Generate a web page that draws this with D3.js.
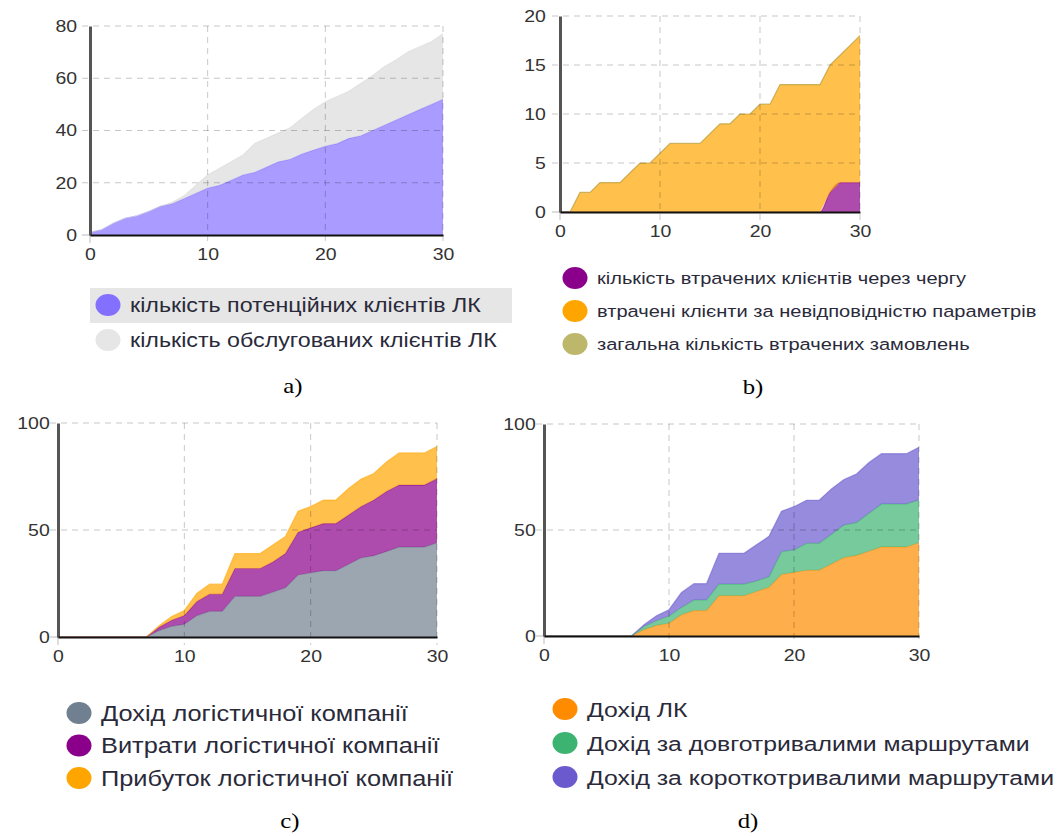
<!DOCTYPE html>
<html>
<head>
<meta charset="utf-8">
<script src="https://cdn.jsdelivr.net/npm/d3@7"></script>
<style>
  body { margin: 0; background: #fff; }
  svg { display: block; }
</style>
</head>
<body>
<svg id="chart" width="1062" height="836"></svg>
<script>
const days = d3.range(0, 31)

// a) clients (stacked: potential at the bottom, served on top)
const potentialClients = [1, 2, 4.5, 6.4, 7.3, 9, 11, 12, 14, 16, 18, 19, 21, 23, 24, 26, 28, 29, 31, 32.5, 34, 35, 37, 38, 40, 42, 44, 46, 48, 50, 52]
const servedClients = [0, 0, 0, 0, 0, 0, 0, 0.5, 1, 3, 5, 6.5, 7, 7.6, 11, 11, 11, 12, 13.6, 15.5, 17, 18, 18, 20, 21, 22.4, 23, 24, 24, 24, 25]

// b) lost clients (stacked: queue at the bottom)
const queueLost = [0, 0, 0, 0, 0, 0, 0, 0, 0, 0, 0, 0, 0, 0, 0, 0, 0, 0, 0, 0, 0, 0, 0, 0, 0, 0, 0, 2, 3, 3, 3]
const mismatchLost = [0, 0, 2, 2, 3, 3, 3, 4, 5, 5, 6, 7, 7, 7, 7, 8, 9, 9, 10, 10, 11, 11, 13, 13, 13, 13, 13, 13, 13, 14, 15]

// c) income / costs / profit (stacked)
const income = [0, 0, 0, 0, 0, 0, 0, 0, 3, 5, 6, 10, 12, 12, 19, 19, 19, 21, 23, 29, 30, 31, 31, 34, 37, 38, 40, 42, 42, 42, 44]
const costs = [0, 0, 0, 0, 0, 0, 0, 0, 1.5, 2.8, 4, 6.6, 8, 8, 13, 13, 13, 14, 16, 20, 21, 22, 22, 23, 24, 26, 28, 29, 29, 29, 30]
const profit = [0, 0, 0, 0, 0, 0, 0, 0, 0.8, 1.8, 2.4, 3.9, 4.7, 4.7, 7, 7, 7, 8, 8, 9.8, 10, 11, 11, 12.4, 12.8, 12.4, 13.8, 15, 15, 15, 15]

// d) income by route type (stacked)
const incomeLK = income
const longRoutes = [0, 0, 0, 0, 0, 0, 0, 0, 1.5, 2.2, 3.4, 3.5, 5, 5, 5.5, 5.5, 5.5, 5, 5, 10.8, 10.6, 12.7, 12.7, 14, 15.4, 15.5, 17.9, 20.3, 20.3, 20.3, 20.2]
const shortRoutes = [0, 0, 0, 0, 0, 0, 0, 0, 0.8, 2.4, 3, 7, 7.7, 7.7, 14.5, 14.5, 14.5, 17, 19, 19, 20.4, 20.3, 20.3, 21.4, 21.4, 22.9, 23.9, 23.7, 23.7, 23.7, 24.8]

const legendA = ['кількість потенційних клієнтів ЛК', 'кількість обслугованих клієнтів ЛК']
const legendB = ['кількість втрачених клієнтів через чергу', 'втрачені клієнти за невідповідністю параметрів', 'загальна кількість втрачених замовлень']
const legendC = ['Дохід логістичної компанії', 'Витрати логістичної компанії', 'Прибуток логістичної компанії']
const legendD = ['Дохід ЛК', 'Дохід за довготривалими маршрутами', 'Дохід за короткотривалими маршрутами']

const sx = 1.18 // the source picture is stretched horizontally
const sans = '"Liberation Sans", Arial, sans-serif'
const svg = d3.select('#chart')

function panel(opt) {
  const width = opt.right - opt.left
  const height = opt.bottom - opt.top
  const g = svg.append('g').attr('transform', `translate(${opt.left}, ${opt.top})`)

  const x = d3.scaleLinear().domain([0, 30]).range([0, width])
  const y = d3.scaleLinear().domain([0, opt.yMax]).range([height, 0])

  const rows = days.map(d => {
    const r = { day: d }
    opt.series.forEach((s, i) => { r['s' + i] = s.values[d] })
    return r
  })
  const stack = d3.stack().keys(opt.series.map((s, i) => 's' + i))(rows)

  stack.forEach((layer, i) => {
    const s = opt.series[i]
    const curve = s.curve || d3.curveLinear
    const area = d3.area()
      .x(p => x(p.data.day))
      .y0(p => y(p[0]))
      .y1(p => y(p[1]))
      .curve(curve)
    const top = d3.line()
      .x(p => x(p.data.day))
      .y(p => y(p[1]))
      .curve(curve)
    g.append('path')
      .attr('d', area(layer))
      .attr('fill', s.color)
      .attr('fill-opacity', 0.7)
    g.append('path')
      .attr('d', top(layer))
      .attr('fill', 'none')
      .attr('stroke', s.line || s.color)
      .attr('stroke-opacity', 0.55)
      .attr('stroke-width', 1.2)
  })

  // dashed grid, drawn over the areas
  const grid = g.append('g')
    .attr('stroke', '#000')
    .attr('stroke-opacity', 0.22)
    .attr('stroke-dasharray', '6,5')
  grid.selectAll('.gy').data(opt.yTicks.filter(t => t > 0)).enter()
    .append('line')
      .attr('x1', -8).attr('x2', width)
      .attr('y1', d => y(d)).attr('y2', d => y(d))
  grid.selectAll('.gx').data([10, 20, 30]).enter()
    .append('line')
      .attr('x1', d => x(d)).attr('x2', d => x(d))
      .attr('y1', 0).attr('y2', height + 8)
  // small tick stubs at 0
  g.append('line').attr('x1', -8).attr('x2', 0).attr('y1', height).attr('y2', height)
    .attr('stroke', '#bbb')
  g.append('line').attr('x1', 0).attr('x2', 0).attr('y1', height).attr('y2', height + 8)
    .attr('stroke', '#bbb')

  const yAxis = g.append('g')
    .call(d3.axisLeft(y).tickValues(opt.yTicks).tickSize(0).tickSizeOuter(0).tickPadding(opt.yPad))
  yAxis.select('.domain').attr('stroke', '#555').attr('stroke-width', 3)

  const xAxis = g.append('g')
    .attr('transform', `translate(0, ${height})`)
    .call(d3.axisBottom(x).tickValues([0, 10, 20, 30]).tickSize(0).tickSizeOuter(0).tickPadding(13))
  xAxis.select('.domain').attr('stroke', '#111').attr('stroke-width', 2)

  g.selectAll('.tick text')
    .style('font-family', sans)
    .style('font-size', '16.5px')
    .attr('fill', '#333')
    .attr('transform', `scale(${sx}, 1)`)

  // legend
  const lg = svg.append('g')
  if (opt.highlight) {
    lg.append('rect')
      .attr('x', opt.highlight[0]).attr('y', opt.highlight[1])
      .attr('width', opt.highlight[2]).attr('height', opt.highlight[3])
      .attr('fill', '#e6e6e6')
  }
  opt.legend.forEach((name, i) => {
    const cy = opt.legendY + i * opt.legendStep
    lg.append('ellipse')
      .attr('cx', opt.legendX).attr('cy', cy)
      .attr('rx', 12.5).attr('ry', 11)
      .attr('fill', opt.legendColors[i])
    lg.append('text')
      .attr('transform', `translate(${opt.legendX + 22}, ${cy}) scale(${sx}, 1)`)
      .attr('dy', '0.36em')
      .style('font-family', sans)
      .style('font-size', opt.legendSize + 'px')
      .attr('fill', '#2a2a3a')
      .text(name)
  })

  svg.append('text')
    .attr('transform', `translate(${opt.caption[0]}, ${opt.caption[1]}) scale(${sx}, 1)`)
    .attr('text-anchor', 'middle')
    .style('font-family', '"Liberation Serif", "Times New Roman", serif')
    .style('font-size', '21px')
    .attr('fill', '#000')
    .text(opt.captionText)
}

panel({
  left: 90, right: 443, top: 26, bottom: 235,
  yMax: 80, yTicks: [0, 20, 40, 60, 80], yPad: 11,
  series: [
    { values: potentialClients, color: '#8470ff' },
    { values: servedClients, color: '#dcdcdc', line: '#d8d8d8' },
  ],
  legend: legendA, legendColors: ['#8470ff', '#e6e6e6'],
  legendX: 108, legendY: 305, legendStep: 35, legendSize: 19.7,
  highlight: [90, 288, 422, 35],
  caption: [293, 393], captionText: 'a)',
})

panel({
  left: 560, right: 860, top: 16, bottom: 212,
  yMax: 20, yTicks: [0, 5, 10, 15, 20], yPad: 12,
  series: [
    { values: queueLost, color: '#8b008b', curve: d3.curveMonotoneX },
    { values: mismatchLost, color: '#ffa500', line: '#a08a20' },
  ],
  legend: legendB, legendColors: ['#8b008b', '#ffa500', '#bdb76b'],
  legendX: 575, legendY: 278, legendStep: 33, legendSize: 17,
  caption: [753, 394], captionText: 'b)',
})

panel({
  left: 58, right: 437, top: 423, bottom: 637,
  yMax: 100, yTicks: [0, 50, 100], yPad: 7,
  series: [
    { values: income, color: '#708090' },
    { values: costs, color: '#8b008b' },
    { values: profit, color: '#ffa500' },
  ],
  legend: legendC, legendColors: ['#708090', '#8b008b', '#ffa500'],
  legendX: 79, legendY: 713, legendStep: 32.5, legendSize: 21.5,
  caption: [290, 828], captionText: 'c)',
})

panel({
  left: 544, right: 919, top: 424, bottom: 636,
  yMax: 100, yTicks: [0, 50, 100], yPad: 7,
  series: [
    { values: incomeLK, color: '#ff8c00' },
    { values: longRoutes, color: '#3cb371' },
    { values: shortRoutes, color: '#6a5acd' },
  ],
  legend: legendD, legendColors: ['#ff8c00', '#3cb371', '#6a5acd'],
  legendX: 565, legendY: 709, legendStep: 34, legendSize: 21,
  caption: [748, 828], captionText: 'd)',
})
</script>
</body>
</html>
